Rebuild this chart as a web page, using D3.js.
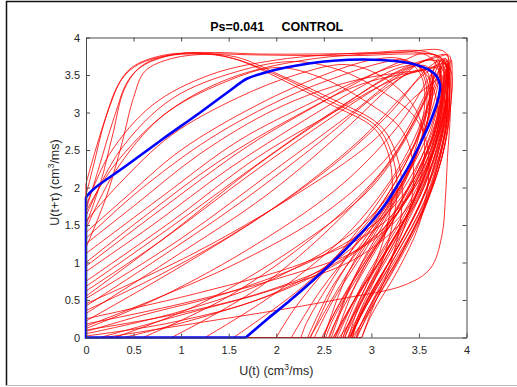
<!DOCTYPE html>
<html><head><meta charset="utf-8">
<script src="https://cdn.jsdelivr.net/npm/d3@7"></script>
<style>
body{margin:0;background:#fff}
svg{display:block}
text{font-family:"Liberation Sans",Arial,Helvetica,sans-serif}
</style>
</head><body>
<svg id="c" width="517" height="387"></svg>
<script>
// ---------- data ----------
const xTicks = [0, 0.5, 1, 1.5, 2, 2.5, 3, 3.5, 4];
const yTicks = [0, 0.5, 1, 1.5, 2, 2.5, 3, 3.5, 4];
const titleText = "Ps=0.041     CONTROL";

// blue reference cycle: straight part along the axes, then curved part
const blueEdge = [[1.68, 0], [0, 0], [0, 1.87]];
const blueCurve = [[1.68,0],[1.92,0.26],[2.15,0.5],[2.42,0.8],[2.67,1.1],[2.86,1.35],[3.02,1.57],[3.16,1.8],
  [3.27,2.02],[3.4,2.3],[3.5,2.55],[3.6,2.82],[3.67,3.05],[3.71,3.22],[3.72,3.38],[3.66,3.52],[3.46,3.64],
  [3.1,3.7],[2.6,3.69],[2.1,3.6],[1.85,3.52],[1.69,3.45],[1.5,3.28],[1.2,3.0],[0.8,2.64],[0.4,2.27],[0.08,1.98],[0,1.87]];

// red cycles: rising branch i joined to falling branch i
const redRising = [
  [[0,0.05],[1.0,0.35],[2.0,0.8],[2.9,1.5],[3.4,2.3],[3.65,3.1],[3.74,3.55]],
  [[0,0.12],[0.8,0.55],[1.8,1.25],[2.7,2.05],[3.3,2.85],[3.6,3.45],[3.72,3.68]],
  [[0,0.22],[1.0,0.95],[2.0,1.75],[2.85,2.6],[3.35,3.25],[3.62,3.62]],
  [[0,0.32],[0.9,1.05],[1.9,1.9],[2.7,2.75],[3.25,3.4],[3.58,3.7]],
  [[0,0.42],[0.7,1.0],[1.6,1.78],[2.5,2.65],[3.1,3.28],[3.45,3.55]],
  [[0,0.52],[1.0,1.32],[2.0,2.25],[2.8,3.0],[3.3,3.5],[3.65,3.74]],
  [[0,0.62],[0.8,1.3],[1.7,2.15],[2.6,2.95],[3.15,3.4],[3.45,3.62]],
  [[0,0.75],[0.9,1.55],[1.8,2.4],[2.6,3.0],[3.2,3.42],[3.62,3.6]],
  [[0,0.88],[0.7,1.5],[1.5,2.25],[2.3,2.9],[2.9,3.35],[3.3,3.6]],
  [[0,1.0],[0.6,1.6],[1.4,2.35],[2.2,2.95],[2.9,3.38],[3.55,3.56]],
  [[0,1.12],[0.8,1.88],[1.6,2.62],[2.4,3.15],[2.9,3.45],[3.25,3.62]],
  [[0,1.25],[0.5,1.75],[1.2,2.45],[2.0,3.05],[2.8,3.42],[3.5,3.56]],
  [[0,1.4],[0.4,1.85],[1.0,2.5],[1.8,3.1],[2.5,3.5],[3.0,3.7]],
  [[0,0.08],[0.6,0.3],[1.5,0.6],[2.5,1.1],[3.2,1.7],[3.6,2.5],[3.76,3.3]],
  [[0,0.55],[0.9,1.4],[1.8,2.3],[2.6,3.0],[3.2,3.5],[3.6,3.7]],
  [[0,1.55],[0.35,2.05],[0.9,2.7],[1.6,3.2],[2.2,3.5],[2.7,3.64]],
  [[0,1.68],[0.3,2.3],[0.85,3.0],[1.5,3.45],[2.3,3.7],[3.3,3.8]],
  [[0,1.62],[0.35,2.48],[0.9,3.18],[1.6,3.55],[2.2,3.68]],
  [[0.3,0],[1.2,0.45],[2.2,1.2],[3.0,2.0],[3.45,2.85],[3.68,3.5]],
  [[0.6,0],[1.5,0.55],[2.4,1.35],[3.1,2.2],[3.5,3.0],[3.7,3.5]],
  [[0.9,0],[1.8,0.65],[2.6,1.5],[3.2,2.35],[3.55,3.15],[3.7,3.62]],
  [[0,0.18],[1.0,0.45],[2.0,0.78],[2.9,1.2],[3.45,1.85],[3.7,2.7],[3.76,3.4]],
  [[0,0.36],[0.8,0.85],[1.7,1.5],[2.6,2.3],[3.2,3.0],[3.5,3.45]],
  [[0,0.68],[0.9,1.48],[1.9,2.4],[2.7,3.1],[3.3,3.55],[3.7,3.74]],
  [[0,0.95],[0.8,1.72],[1.7,2.55],[2.5,3.15],[3.0,3.5],[3.35,3.7]],
  [[0,1.32],[0.55,1.95],[1.3,2.65],[2.1,3.2],[2.7,3.5],[3.1,3.66]],
  [[0.15,0],[1.0,0.3],[2.0,0.65],[2.9,1.1],[3.45,1.75],[3.7,2.6],[3.8,3.3]],
  [[0,0.45],[1.1,1.1],[2.2,1.9],[3.0,2.6],[3.45,3.2],[3.7,3.45]],
  [[0,1.75],[0.25,2.45],[0.7,3.1],[1.3,3.5],[2.0,3.7],[3.0,3.8]],
  [[0,1.45],[0.3,2.2],[0.8,2.95],[1.45,3.4],[2.0,3.6]],
  [[1.25,0],[2.0,0.6],[2.8,1.45],[3.35,2.4],[3.65,3.3],[3.74,3.66]],
  [[1.55,0],[2.3,0.7],[3.0,1.6],[3.45,2.55],[3.68,3.35],[3.78,3.72]],
  [[0,0.25],[1.2,0.6],[2.3,1.0],[3.1,1.5],[3.55,2.2],[3.75,3.0],[3.8,3.55]],
  [[0,0.02],[0.9,0.2],[1.9,0.55],[2.8,1.2],[3.3,2.0],[3.55,2.9],[3.64,3.38]],
  [[0,0.1],[0.9,0.3],[1.9,0.62],[2.7,1.05],[3.3,1.7],[3.62,2.6],[3.74,3.3]],
  [[0.4,0],[1.3,0.3],[2.2,0.7],[3.0,1.3],[3.5,2.1],[3.72,3.0],[3.78,3.5]],
  [[0,0.15],[0.7,0.5],[1.6,1.0],[2.5,1.65],[3.2,2.45],[3.55,3.2],[3.66,3.6]],
  // steep upper-left cycles
  [[0,1.9],[0.08,2.3],[0.2,2.9],[0.33,3.35],[0.48,3.6],[0.8,3.76],[1.15,3.79],[1.55,3.72]],
  [[0,2.05],[0.1,2.5],[0.24,3.05],[0.38,3.45],[0.55,3.64],[0.9,3.77],[1.25,3.79],[1.6,3.7]],
  [[0,1.5],[0.15,2.05],[0.28,2.7],[0.4,3.3],[0.55,3.58],[0.85,3.75],[1.2,3.78],[1.58,3.74]],
  [[0,1.2],[0.22,1.9],[0.38,2.6],[0.5,3.2],[0.62,3.55],[0.9,3.72],[1.3,3.78],[1.7,3.77]],
  [[0,1.7],[0.12,2.2],[0.3,2.95],[0.44,3.42],[0.62,3.65],[0.95,3.78],[1.35,3.8],[1.8,3.78]]
];

const redFalling = [
  [[3.8,3.62],[3.82,3.2],[3.76,2.6],[3.6,1.9],[3.35,1.2],[3.05,0.5],[2.84,0]],
  [[3.78,3.72],[3.8,3.3],[3.74,2.7],[3.58,2.0],[3.32,1.3],[3.0,0.6],[2.78,0]],
  [[3.76,3.7],[3.79,3.25],[3.72,2.65],[3.55,2.05],[3.28,1.4],[2.95,0.7],[2.72,0]],
  [[3.7,3.66],[3.72,3.3],[3.64,2.8],[3.46,2.2],[3.18,1.5],[2.86,0.78],[2.62,0]],
  [[3.58,3.55],[3.62,3.2],[3.55,2.7],[3.38,2.15],[3.12,1.5],[2.82,0.8],[2.58,0]],
  [[3.8,3.76],[3.78,3.35],[3.68,2.8],[3.48,2.2],[3.18,1.55],[2.82,0.8],[2.56,0]],
  [[3.6,3.6],[3.64,3.3],[3.58,2.85],[3.4,2.25],[3.1,1.6],[2.75,0.85],[2.5,0]],
  [[3.78,3.64],[3.76,3.15],[3.64,2.55],[3.42,1.95],[3.12,1.35],[2.75,0.65],[2.48,0]],
  [[3.5,3.62],[3.6,3.35],[3.6,2.95],[3.48,2.45],[3.25,1.85],[2.95,1.2],[2.6,0.5],[2.4,0]],
  [[3.74,3.6],[3.72,3.1],[3.58,2.55],[3.32,1.95],[2.98,1.35],[2.6,0.7],[2.33,0]],
  [[3.45,3.66],[3.56,3.45],[3.58,3.05],[3.5,2.55],[3.3,2.0],[3.0,1.35],[2.65,0.65],[2.4,0.1],[2.35,0]],
  [[3.7,3.58],[3.68,3.05],[3.52,2.5],[3.24,1.9],[2.88,1.3],[2.45,0.6],[2.16,0]],
  [[3.3,3.72],[3.55,3.55],[3.68,3.2],[3.7,2.8],[3.6,2.3],[3.4,1.7],[3.1,1.0],[2.85,0.35],[2.76,0]],
  [[3.8,3.5],[3.82,3.0],[3.74,2.4],[3.56,1.75],[3.3,1.1],[3.0,0.45],[2.82,0]],
  [[3.82,3.6],[3.83,3.0],[3.8,2.4],[3.78,1.9],[3.74,1.35],[3.62,0.92],[3.35,0.7],[2.7,0.52],[2.04,0.37],[1.3,0.22],[0.6,0.08],[0.2,0]],
  [[3.0,3.55],[3.3,3.3],[3.5,2.95],[3.56,2.5],[3.48,1.95],[3.25,1.3],[2.95,0.6],[2.72,0]],
  [[3.78,3.8],[3.8,3.4],[3.75,2.9],[3.62,2.35],[3.4,1.75],[3.1,1.1],[2.8,0.45],[2.62,0]],
  [[2.7,3.55],[3.15,3.25],[3.45,2.95],[3.58,2.6],[3.6,2.1],[3.5,1.5],[3.28,0.9],[3.0,0.3],[2.9,0]],
  [[3.8,3.68],[3.78,3.1],[3.66,2.5],[3.46,1.85],[3.18,1.2],[2.86,0.55],[2.68,0]],
  [[3.76,3.62],[3.76,3.05],[3.64,2.45],[3.44,1.8],[3.15,1.15],[2.82,0.5],[2.6,0]],
  [[3.74,3.7],[3.76,3.22],[3.68,2.7],[3.5,2.15],[3.22,1.55],[2.9,0.9],[2.6,0.25],[2.52,0]],
  [[3.78,3.58],[3.8,3.05],[3.72,2.45],[3.55,1.8],[3.28,1.15],[2.98,0.5],[2.77,0]],
  [[3.62,3.55],[3.64,3.2],[3.54,2.7],[3.32,2.1],[3.0,1.45],[2.64,0.75],[2.36,0]],
  [[3.82,3.76],[3.8,3.3],[3.7,2.7],[3.5,2.05],[3.22,1.4],[2.9,0.7],[2.64,0]],
  [[3.55,3.78],[3.7,3.6],[3.74,3.2],[3.66,2.7],[3.48,2.15],[3.2,1.5],[2.88,0.8],[2.6,0.15],[2.55,0]],
  [[3.35,3.7],[3.52,3.5],[3.56,3.1],[3.46,2.6],[3.24,2.05],[2.94,1.45],[2.6,0.8],[2.32,0.2],[2.26,0]],
  [[3.8,3.45],[3.79,2.9],[3.7,2.3],[3.54,1.65],[3.28,1.0],[3.0,0.4],[2.8,0]],
  [[3.74,3.5],[3.72,2.95],[3.6,2.35],[3.4,1.7],[3.1,1.05],[2.78,0.4],[2.6,0]],
  [[3.6,3.8],[3.8,3.6],[3.82,3.1],[3.76,2.5],[3.6,1.85],[3.35,1.2],[3.05,0.55],[2.85,0]],
  [[2.5,3.45],[3.0,3.1],[3.3,2.8],[3.42,2.45],[3.44,2.0],[3.34,1.45],[3.12,0.85],[2.86,0.25],[2.8,0]],
  [[3.78,3.7],[3.8,3.2],[3.72,2.6],[3.55,2.0],[3.3,1.35],[3.0,0.7],[2.72,0.1],[2.66,0]],
  [[3.82,3.6],[3.8,3.05],[3.7,2.45],[3.52,1.8],[3.25,1.15],[2.95,0.5],[2.75,0]],
  [[3.84,3.7],[3.84,3.2],[3.78,2.6],[3.64,2.0],[3.42,1.4],[3.12,0.75],[2.9,0.2],[2.84,0]],
  [[3.66,3.5],[3.6,3.1],[3.46,2.6],[3.2,2.05],[2.9,1.5],[2.55,0.95],[2.2,0.4],[2.0,0]],
  [[3.78,3.55],[3.8,3.0],[3.72,2.4],[3.54,1.75],[3.26,1.1],[2.96,0.45],[2.76,0]],
  [[3.8,3.66],[3.8,3.15],[3.72,2.55],[3.56,1.9],[3.3,1.25],[3.0,0.6],[2.8,0.05],[2.78,0]],
  [[3.7,3.72],[3.74,3.35],[3.68,2.85],[3.5,2.25],[3.22,1.6],[2.88,0.9],[2.56,0.2],[2.5,0]],
  // steep upper-left cycles: three down the diagonal band, two along the top
  [[2.04,3.48],[2.55,3.16],[3.05,2.82],[3.2,2.5],[3.27,2.05],[3.22,1.5],[3.08,0.9],[2.88,0.35],[2.78,0]],
  [[2.04,3.45],[2.55,3.12],[3.02,2.8],[3.17,2.48],[3.22,2.0],[3.16,1.45],[3.0,0.85],[2.8,0.3],[2.7,0]],
  [[2.04,3.5],[2.57,3.19],[3.08,2.84],[3.24,2.52],[3.32,2.08],[3.3,1.5],[3.18,0.9],[3.0,0.35],[2.9,0]],
  [[2.3,3.76],[2.9,3.76],[3.4,3.78],[3.72,3.74],[3.82,3.35],[3.78,2.75],[3.62,2.1],[3.38,1.45],[3.08,0.75],[2.84,0.15],[2.8,0]],
  [[2.4,3.78],[3.0,3.79],[3.5,3.8],[3.76,3.7],[3.8,3.25],[3.72,2.65],[3.54,2.0],[3.28,1.35],[2.98,0.7],[2.74,0.12],[2.7,0]]
];

// ---------- layout ----------
const W = 517, H = 387;
const svg = d3.select("#c");
const x = d3.scaleLinear().domain([0, 4]).range([86, 466.5]);
const y = d3.scaleLinear().domain([0, 4]).range([337.5, 37.5]);
const axisColor = "#4a4a4a", textColor = "#262626";

// figure frame
svg.append("line").attr("x1", 6).attr("x2", W).attr("y1", 1.5).attr("y2", 1.5).attr("stroke", "#111").attr("stroke-width", 1.5);
svg.append("line").attr("x1", 6.5).attr("x2", 6.5).attr("y1", 1).attr("y2", 386).attr("stroke", "#111").attr("stroke-width", 1.5);
svg.append("line").attr("x1", 6).attr("x2", W).attr("y1", 385.5).attr("y2", 385.5).attr("stroke", "#bbb").attr("stroke-width", 1);

svg.append("defs").append("clipPath").attr("id", "plotclip")
  .append("rect").attr("x", x(0) - 2).attr("y", y(4)).attr("width", x(4) - x(0) + 2).attr("height", y(0) - y(4) + 2);

const plot = svg.append("g").attr("clip-path", "url(#plotclip)");
const curve = d3.line().x(d => x(d[0])).y(d => y(d[1])).curve(d3.curveCatmullRom.alpha(0.5));
const straight = d3.line().x(d => x(d[0])).y(d => y(d[1]));

// red edges (left edge and bottom shared by all cycles)
const maxLeft = d3.max(redRising, r => r[0][0] === 0 ? r[0][1] : 0);
const maxBottom = d3.max(redFalling, f => f[f.length - 1][0]);
plot.append("path").attr("d", straight([[0, maxLeft], [0, 0], [maxBottom, 0]]))
  .attr("fill", "none").attr("stroke", "#ff0000").attr("stroke-width", 1);

redRising.forEach((r, i) => {
  plot.append("path").attr("d", curve(r.concat(redFalling[i])))
    .attr("fill", "none").attr("stroke", "#ff0000").attr("stroke-width", 0.85).attr("stroke-opacity", 0.95);
});

// blue cycle
plot.append("path").attr("d", straight(blueEdge)).attr("fill", "none").attr("stroke", "#0000ff").attr("stroke-width", 2.6);
plot.append("path").attr("d", curve(blueCurve)).attr("fill", "none").attr("stroke", "#0000ff").attr("stroke-width", 2.6);

// axes (box with inward ticks on all sides)
const fmt = d3.format("");
function styleAxis(g) {
  g.selectAll(".domain").attr("stroke", axisColor).attr("stroke-width", 1);
  g.selectAll(".tick line").attr("stroke", axisColor).attr("stroke-width", 1);
  g.selectAll(".tick text").attr("fill", textColor).style("font-size", "11px")
    .style("font-family", '"Liberation Sans", Arial, sans-serif');
}
svg.append("g").attr("transform", `translate(0,${y(0)})`)
  .call(d3.axisBottom(x).tickValues(xTicks).tickFormat(fmt).tickSizeInner(-4).tickSizeOuter(0).tickPadding(9)).call(styleAxis);
svg.append("g").attr("transform", `translate(0,${y(4)})`)
  .call(d3.axisTop(x).tickValues(xTicks).tickFormat("").tickSizeInner(-4).tickSizeOuter(0)).call(styleAxis);
svg.append("g").attr("transform", `translate(${x(0)},0)`)
  .call(d3.axisLeft(y).tickValues(yTicks).tickFormat(fmt).tickSizeInner(-4).tickSizeOuter(0).tickPadding(6)).call(styleAxis);
svg.append("g").attr("transform", `translate(${x(4)},0)`)
  .call(d3.axisRight(y).tickValues(yTicks).tickFormat("").tickSizeInner(-4).tickSizeOuter(0)).call(styleAxis);

// title
svg.append("text").attr("x", (x(0) + x(4)) / 2 + 0.5).attr("y", 31).attr("text-anchor", "middle")
  .style("white-space", "pre").attr("font-weight", "bold").attr("font-size", "12.5px").attr("fill", "#000")
  .text(titleText);

// x label
const xl = svg.append("text").attr("x", (x(0) + x(4)) / 2).attr("y", 375).attr("text-anchor", "middle")
  .attr("font-size", "12.5px").attr("fill", textColor);
xl.append("tspan").text("U(t) (cm");
xl.append("tspan").attr("dy", -5).attr("font-size", "8.5px").text("3");
xl.append("tspan").attr("dy", 5).text("/ms)");

// y label
const yl = svg.append("text").attr("transform", `translate(59,${(y(0) + y(4)) / 2 - 5}) rotate(-90)`)
  .attr("text-anchor", "middle").attr("font-size", "12.5px").attr("fill", textColor);
yl.append("tspan").text("U(t+\u03C4) (cm");
yl.append("tspan").attr("dy", -5).attr("font-size", "8.5px").text("3");
yl.append("tspan").attr("dy", 5).text("/ms)");
</script>
</body></html>
